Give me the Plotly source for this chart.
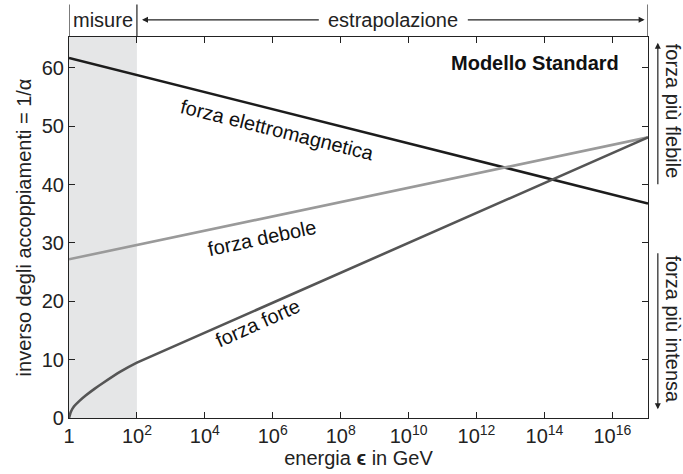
import plotly.graph_objects as go

# ---- data (x = log10 of energy in GeV) ----
em_logE = [0, 17.05]
em_inv_alpha = [61.7, 36.75]

weak_logE = [0, 17.05]
weak_inv_alpha = [27.2, 48.1]

strong_logE = [0, 0.05, 0.15, 0.3, 0.5, 0.75, 1.0, 1.5, 2.0, 17.05]
strong_inv_alpha = [0, 1.0, 2.0, 2.9, 3.9, 5.0, 6.0, 7.9, 9.5, 48.1]

tick_exps = [0, 2, 4, 6, 8, 10, 12, 14, 16]
tick_text = ["1"] + [f"10<sup>{e}</sup>" for e in tick_exps[1:]]
y_ticks = [0, 10, 20, 30, 40, 50, 60]

measured_max_exp = 2
x_max = 17.05
y_max = 65.3

FONT = "Liberation Sans, Arial, Helvetica, sans-serif"
FS = 20

fig = go.Figure()

fig.add_trace(go.Scatter(x=em_logE, y=em_inv_alpha, mode="lines",
                         line=dict(color="#1c1c1c", width=2.6), showlegend=False))
fig.add_trace(go.Scatter(x=weak_logE, y=weak_inv_alpha, mode="lines",
                         line=dict(color="#9a9a9a", width=2.6), showlegend=False))
fig.add_trace(go.Scatter(x=strong_logE, y=strong_inv_alpha, mode="lines",
                         line=dict(color="#555555", width=2.6, shape="spline", smoothing=0.4),
                         showlegend=False))

# shaded measurement region
fig.add_shape(type="rect", xref="x", yref="paper", x0=0, x1=measured_max_exp, y0=0, y1=1,
              fillcolor="#e5e6e7", line=dict(width=0), layer="below")

# header dividers
hdr_top = 1.085
for xv in [0, measured_max_exp, x_max]:
    fig.add_shape(type="line", xref="x", yref="paper", x0=xv, x1=xv, y0=1, y1=hdr_top,
                  line=dict(color="#222222", width=1.2))

ann = []
ann.append(dict(text="misure", x=1.0, y=1.045, xref="x", yref="paper", showarrow=False,
                xanchor="center", yanchor="middle", font=dict(size=FS, color="#222")))
ann.append(dict(text="estrapolazione", x=9.55, y=1.045, xref="x", yref="paper", showarrow=False,
                xanchor="center", yanchor="middle", font=dict(size=FS, color="#222")))
# header arrows
ann.append(dict(text="", x=2.15, y=1.045, xref="x", yref="paper", ax=7.4, ay=0,
                axref="x", ayref="pixel", showarrow=True, arrowhead=2, arrowsize=1,
                arrowwidth=1.2, arrowcolor="#222"))
ann.append(dict(text="", x=16.95, y=1.045, xref="x", yref="paper", ax=11.7, ay=0,
                axref="x", ayref="pixel", showarrow=True, arrowhead=2, arrowsize=1,
                arrowwidth=1.2, arrowcolor="#222"))

# right-side arrows and labels
ann.append(dict(text="", x=1.017, y=64.3, xref="paper", yref="y", ax=0, ay=39.8,
                axref="pixel", ayref="y", showarrow=True, arrowhead=2, arrowsize=1,
                arrowwidth=1.2, arrowcolor="#222"))
ann.append(dict(text="", x=1.017, y=1.5, xref="paper", yref="y", ax=0, ay=28.5,
                axref="pixel", ayref="y", showarrow=True, arrowhead=2, arrowsize=1,
                arrowwidth=1.2, arrowcolor="#222"))
ann.append(dict(text="forza più flebile", x=1.043, y=52.5, xref="paper", yref="y",
                xanchor="center", yanchor="middle",
                showarrow=False, textangle=90, font=dict(size=FS, color="#222")))
ann.append(dict(text="forza più intensa", x=1.043, y=15.2, xref="paper", yref="y",
                xanchor="center", yanchor="middle",
                showarrow=False, textangle=90, font=dict(size=FS, color="#222")))

# curve labels
ann.append(dict(text="forza elettromagnetica", x=6.15, y=49.4, xref="x", yref="y",
                showarrow=False, textangle=14, font=dict(size=FS, color="#111")))
ann.append(dict(text="forza debole", x=5.68, y=30.8, xref="x", yref="y",
                showarrow=False, textangle=-12, font=dict(size=FS, color="#111")))
ann.append(dict(text="forza forte", x=5.56, y=16.2, xref="x", yref="y",
                showarrow=False, textangle=-24, font=dict(size=FS, color="#111")))
ann.append(dict(text="<b>Modello Standard</b>", x=16.25, y=60.8, xref="x", yref="y",
                xanchor="right", showarrow=False, font=dict(size=FS, color="#111")))

fig.update_layout(
    width=683, height=474,
    margin=dict(l=69, r=35, t=37, b=56),
    paper_bgcolor="white", plot_bgcolor="white",
    font=dict(family=FONT, size=FS, color="#222"),
    annotations=ann,
    xaxis=dict(range=[0, x_max], tickvals=tick_exps, ticktext=tick_text,
               ticks="inside", ticklen=6, tickcolor="#222", mirror="ticks",
               showline=True, linecolor="#222", linewidth=1.2, showgrid=False,
               zeroline=False, tickfont=dict(size=FS),
               title=dict(text="energia <b>ϵ</b> in GeV", font=dict(size=FS), standoff=2)),
    yaxis=dict(range=[0, y_max], tickvals=y_ticks, ticks="inside", ticklen=6,
               tickcolor="#222", mirror="ticks", showline=True, linecolor="#222",
               linewidth=1.2, showgrid=False, zeroline=False, tickfont=dict(size=FS),
               title=dict(text="inverso degli accoppiamenti = 1/α", font=dict(size=FS),
                          standoff=4)),
)

fig.write_html("out.html", config={"displayModeBar": False},
               post_script="document.body.style.margin='0';")
